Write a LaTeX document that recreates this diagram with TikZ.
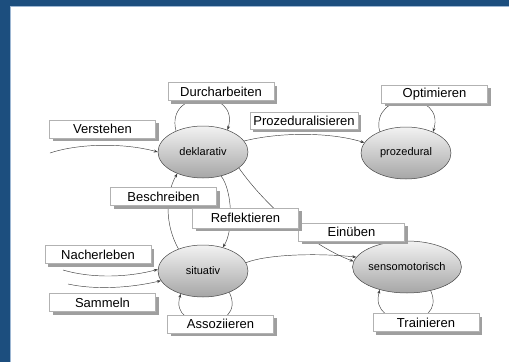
\documentclass[tikz,border=0pt]{standalone}
\usepackage{fontspec}
\setmainfont{Liberation Sans}
\usetikzlibrary{shapes.geometric,shadows,arrows.meta}
\pgfdeclarelayer{background}
\pgfsetlayers{background,main}
\definecolor{frameblue}{HTML}{1C4E7E}
\definecolor{framelight}{HTML}{9DB7D3}
\begin{document}
\begin{tikzpicture}[x=1pt,y=-1pt,
 lbl/.style={draw=gray!60, line width=0.6pt, fill=white, minimum width=106pt, minimum height=18pt, inner sep=0pt, font=\fontsize{13}{13}\selectfont, drop shadow={shadow xshift=3pt, shadow yshift=-3pt, fill=gray!75, opacity=1}},
 state/.style={ellipse, draw=gray!55!black, line width=0.5pt, top color=gray!10, bottom color=gray!70, minimum width=90pt, minimum height=52pt, inner sep=0pt, font=\fontsize{11}{11}\selectfont},
 conn/.style={draw=gray!50!black, line width=0.45pt, -{Stealth[length=4pt,width=3pt]}}]
\useasboundingbox (0,0) rectangle (509,362);

\node[state] (dek) at (203,152) {deklarativ};
\node[state] (proz) at (406,153) {prozedural};
\node[state] (sit) at (203,271) {situativ};
\node[state, minimum width=93pt] (sens) at (407,267) {sensomotorisch};

\node[lbl] (durch) at (221,91.5) {Durcharbeiten};
\node[lbl] (opt) at (434.5,94) {Optimieren};
\node[lbl] (verst) at (102.5,129) {Verstehen};
\node[lbl, minimum width=108pt, minimum height=17pt] (prozl) at (304,120.5) {Prozeduralisieren};
\node[lbl] (besch) at (163.5,196.5) {Beschreiben};
\node[lbl] (einu) at (351.5,232) {Einüben};
\node[lbl, minimum height=20pt] (refl) at (245.5,218) {Reflektieren};
\node[lbl] (nach) at (98,254.5) {Nacherleben};
\node[lbl] (samm) at (102.5,302.5) {Sammeln};
\node[lbl] (asso) at (220.5,324) {Assoziieren};
\node[lbl] (train) at (426,322.5) {Trainieren};

\coordinate (vin) at (50,153);
\coordinate (nin) at (63,270);
\coordinate (sin) at (68,284);

\begin{pgfonlayer}{background}
\fill[white] (0,0) rectangle (509,362);
\fill[frameblue] (0,0) rectangle (509,6);
\fill[frameblue] (0,0) rectangle (10,362);
\draw[framelight, line width=1pt] (10.5,362) -- (10.5,6.5) -- (509,6.5);
\draw[conn] (vin) .. controls (80,143) and (125,143) .. (dek.180);
\draw[conn] (dek.142) .. controls (165,88) and (240,88) .. (dek.42);
\draw[conn] (proz.141) .. controls (370,90) and (446,90) .. (proz.38);
\draw[conn] (dek.15) .. controls (280,132) and (330,132) .. (proz.166);
\draw[conn] (dek.-24) .. controls (265,205) and (310,245) .. (sens.174);
\draw[conn] (sit.138) .. controls (165,225) and (165,195) .. (dek.220);
\draw[conn] (dek.307) .. controls (232,190) and (234,230) .. (sit.50);
\draw[conn] (nin) .. controls (90,278) and (125,278) .. (sit.178);
\draw[conn] (sin) .. controls (95,290) and (130,288) .. (sit.193);
\draw[conn] (sit.11) .. controls (268,254) and (320,253) .. (sens.169);
\draw[conn] (sit.321) .. controls (248,332) and (168,332) .. (sit.226);
\draw[conn] (sens.315) .. controls (448,330) and (368,330) .. (sens.220);
\end{pgfonlayer}
\end{tikzpicture}
\end{document}
